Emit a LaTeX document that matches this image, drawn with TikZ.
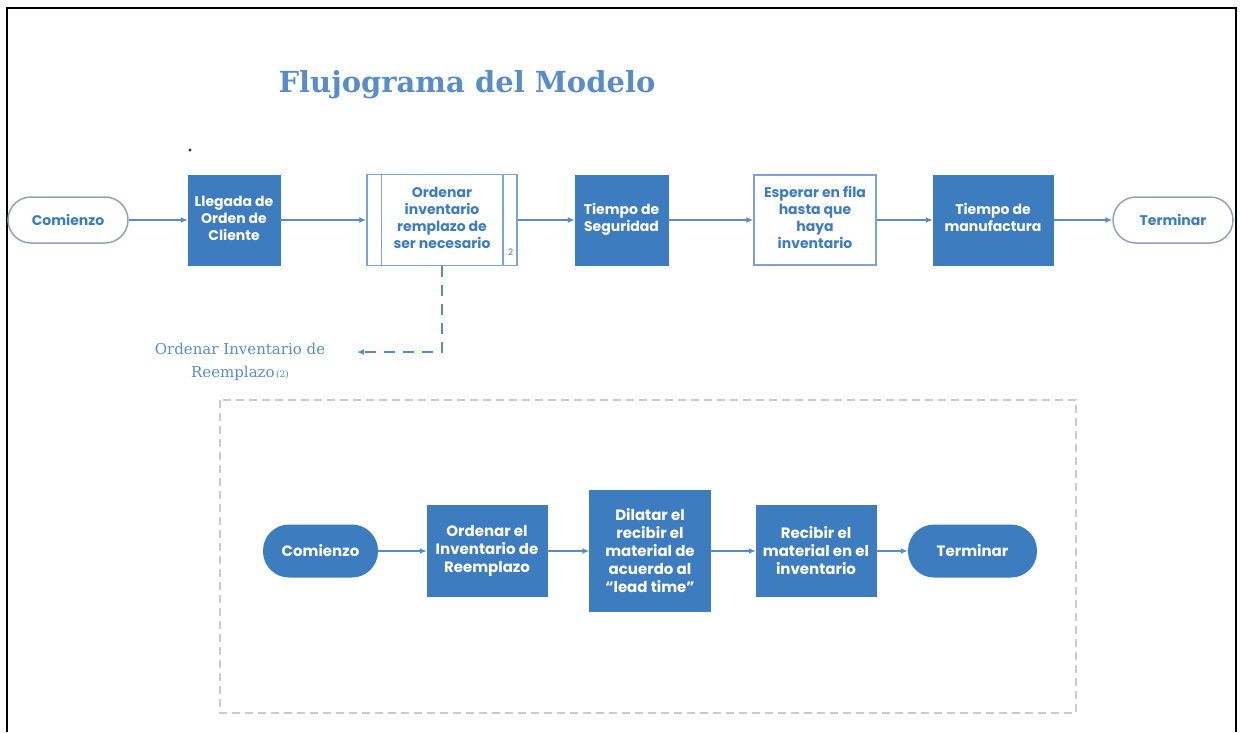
\documentclass[tikz,border=0pt]{standalone}
\usepackage{fontspec}
\setmainfont{DejaVu Serif}
\newfontfamily\boxfont{Poppins}
\usepackage{xcolor}
\usepackage{tikz}
\usetikzlibrary{positioning, arrows.meta}

\definecolor{boxblue}{HTML}{3D7CBE}
\definecolor{lineblue}{HTML}{5B8BC5}
\definecolor{edgeblue}{HTML}{7EA3D2}
\definecolor{termgray}{HTML}{8FA3BC}
\definecolor{titleblue}{HTML}{5A8CC8}
\definecolor{dashgray}{HTML}{CBCBCB}
\definecolor{dotnavy}{HTML}{1F2A6B}

\newcommand{\uptext}[1]{\raisebox{6pt}{\begin{tabular}{@{}c@{}}#1\end{tabular}}}

\tikzset{
  topfont/.style={font=\boxfont\bfseries\fontsize{14}{17}\selectfont},
  lowfont/.style={font=\boxfont\bfseries\fontsize{15}{18}\selectfont, align=center},
  fillbox/.style={rectangle, fill=boxblue, draw=boxblue, text=white, inner sep=0pt},
  whitebox/.style={rectangle, fill=white, draw=edgeblue, line width=1.5pt, text=boxblue, inner sep=0pt},
  term/.style={rectangle, rounded corners=23pt, draw=termgray, line width=1.5pt, fill=white, text=boxblue, minimum width=120pt, minimum height=46pt, inner sep=0pt, topfont},
  fillterm/.style={rectangle, rounded corners=26pt, fill=boxblue, text=white, minimum height=53pt, inner sep=0pt, lowfont},
  flow/.style={draw=lineblue, line width=1.5pt, -{Latex[length=7pt, width=6pt]}},
  dashflow/.style={draw=lineblue, line width=1.5pt, dash pattern=on 11pt off 8pt, -{Latex[length=7pt, width=6pt]}},
}

\begin{document}
\begin{tikzpicture}[x=1pt, y=-1pt]
        \useasboundingbox (0,0) rectangle (1241,732);
        \draw[line width=2pt] (7,732) -- (7,8) -- (1236,8) -- (1236,732);
        \node[font=\bfseries\fontsize{29}{34}\selectfont, text=titleblue] (titulo) at (467,85) {Flujograma del Modelo};
        \fill[dotnavy] (190,150) circle (1.6pt);
        \node[term] (comienzo) at (68,220) {Comienzo};
        \node[fillbox, topfont, minimum width=92pt, minimum height=90pt] (llegada) at (234,220) {\uptext{Llegada de\\Orden de\\Cliente}};
        \node[whitebox, topfont, minimum width=150pt, minimum height=91pt] (ordenar) at (442,220) {\uptext{Ordenar\\inventario\\remplazo de\\ser necesario}};
        \node[fillbox, topfont, minimum width=93pt, minimum height=90pt] (seguridad) at (621.5,220) {\uptext{Tiempo de\\Seguridad}};
        \node[whitebox, topfont, minimum width=122pt, minimum height=90pt] (esperar) at (815,220) {\uptext{Esperar en fila\\hasta que\\haya\\inventario}};
        \node[fillbox, topfont, minimum width=120pt, minimum height=90pt] (manufactura) at (993,220) {\uptext{Tiempo de\\manufactura}};
        \node[term] (terminar) at (1173,220) {Terminar};
        \draw[edgeblue, line width=1.5pt] ([xshift=15pt]ordenar.north west) -- ([xshift=15pt]ordenar.south west);
        \draw[edgeblue, line width=1.5pt] ([xshift=-15pt]ordenar.north east) -- ([xshift=-15pt]ordenar.south east);
        \node[text=boxblue, font=\boxfont\fontsize{9}{9}\selectfont] (sub2) at ([xshift=-7pt, yshift=14pt]ordenar.south east) {2};
        \draw[flow] (comienzo) -- (llegada);
        \draw[flow] (llegada) -- (ordenar);
        \draw[flow] (ordenar) -- (seguridad);
        \draw[flow] (seguridad) -- (esperar);
        \draw[flow] (esperar) -- (manufactura);
        \draw[flow] (manufactura) -- (terminar);
        \coordinate (reemp-fin) at (357,352);
        \draw[dashflow] (ordenar.south) |- (reemp-fin);
        \node[align=center, text=titleblue, font=\fontsize{15}{23}\selectfont] (reemplazo) at (240,362) {Ordenar Inventario de\\Reemplazo{\fontsize{9}{9}\selectfont\,(2)}};
        \draw[dashgray, line width=2pt, dash pattern=on 8pt off 5pt] (220,400) rectangle (1076,713);
        \begin{scope}[shift={(0,551)}]
        \node[fillterm, minimum width=115pt] (comienzo2) at (320.5,0) {Comienzo};
        \node[fillbox, lowfont, minimum width=120pt, minimum height=91pt] (ordenarel) at (487,0) {Ordenar el\\Inventario de\\Reemplazo};
        \node[fillbox, lowfont, minimum width=121pt, minimum height=121pt] (dilatar) at (650,0) {Dilatar el\\recibir el\\material de\\acuerdo al\\“lead time”};
        \node[fillbox, lowfont, minimum width=120pt, minimum height=91pt] (recibir) at (816,0) {Recibir el\\material en el\\inventario};
        \node[fillterm, minimum width=129pt] (terminar2) at (972.5,0) {Terminar};
        \draw[flow] (comienzo2) -- (ordenarel);
        \draw[flow] (ordenarel) -- (dilatar);
        \draw[flow] (dilatar) -- (recibir);
        \draw[flow] (recibir) -- (terminar2);
        \end{scope}
\end{tikzpicture}
\end{document}
